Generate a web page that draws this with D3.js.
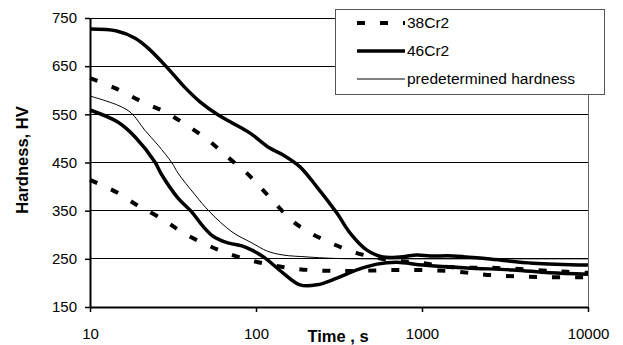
<!DOCTYPE html>
<html>
<head>
<meta charset="utf-8">
<script src="https://cdn.jsdelivr.net/npm/d3@7/dist/d3.min.js"></script>
<style>
  body { margin: 0; background: #fff; }
  svg text { font-family: "Liberation Sans", Arial, sans-serif; fill: #000; }
</style>
</head>
<body>
<svg id="chart" width="623" height="345"></svg>
<script>
// values: [time s, hardness HV]
var cr38Upper = [[10,625],[14.5,603],[20.6,576],[28.3,555],[37.3,530],[51.3,497],[67.7,461],[88,428],[106,399],[130,366],[165,329],[212,304],[290,281],[405,262],[535,252],[736,245],[1013,241],[1480,233],[2820,231],[7470,223],[10000,221]];
var cr38Lower = [[10,414],[14.7,387],[18.7,364],[21.4,353],[28.3,329],[36.3,304],[50.6,279],[71.7,258],[103,243],[145,233],[205,227],[290,225],[405,225],[736,227],[1410,225],[2660,216],[5140,212],[10000,212]];
var cr46Upper = [[10,727],[14.5,723],[18.7,708],[22.3,688],[29,648],[37,607],[46,576],[59,549],[72,532],[92,511],[121,480],[145,466],[184,441],[233,399],[307,345],[368,304],[466,268],[582,254],[736,254],[933,258],[1120,256],[1540,256],[2470,250],[4670,241],[10000,237]];
var cr46Lower = [[10,559],[14.7,534],[18.7,503],[24.6,451],[27.1,424],[33.9,376],[41.1,347],[47.3,320],[55.1,297],[67.7,283],[82.2,277],[94.5,268],[113,252],[145,221],[184,196],[233,196],[307,210],[405,227],[535,239],[706,243],[1013,237],[1865,231],[3530,227],[5860,221],[10000,218]];
var predetermined = [[10,588],[14.7,569],[17.7,553],[21.4,517],[25.7,486],[31.2,449],[33.9,428],[42.9,383],[52.8,347],[71.7,306],[94.5,283],[117,266],[145,258],[203,254],[290,251],[466,250],[667,250],[10000,250]];

var xTicks = [10, 100, 1000, 10000];
var yTicks = [150, 250, 350, 450, 550, 650, 750];
var legendNames = ["38Cr2", "46Cr2", "predetermined hardness"];

var margin = {top: 18, left: 90, right: 35, bottom: 38};
var width = 623, height = 345;
var chartWidth = width - margin.left - margin.right;
var chartHeight = height - margin.top - margin.bottom;

var svg = d3.select('#chart');
var chartArea = svg.append('g')
    .attr('transform', `translate(${margin.left},${margin.top})`);

var xScale = d3.scaleLog()
    .domain([10, 10000])
    .range([0, chartWidth]);

var yScale = d3.scaleLinear()
    .domain([150, 750])
    .range([chartHeight, 0]);

// gridlines
chartArea.append('g')
    .selectAll('line')
    .data(yTicks.slice(1))
    .enter().append('line')
    .attr('x1', 0).attr('x2', chartWidth)
    .attr('y1', d => yScale(d)).attr('y2', d => yScale(d))
    .attr('stroke', '#000')
    .attr('stroke-width', 1)
    .attr('shape-rendering', 'crispEdges');

// right border of plot area
chartArea.append('line')
    .attr('x1', chartWidth).attr('x2', chartWidth)
    .attr('y1', 0).attr('y2', chartHeight)
    .attr('stroke', '#666')
    .attr('shape-rendering', 'crispEdges');

var line = d3.line()
    .x(d => xScale(d[0]))
    .y(d => yScale(d[1]))
    .curve(d3.curveCatmullRom.alpha(0.5));

var series = [
    {data: predetermined, width: 1, dash: null},
    {data: cr38Lower, width: 4, dash: '8,15'},
    {data: cr38Upper, width: 4, dash: '8,15'},
    {data: cr46Lower, width: 3.5, dash: null},
    {data: cr46Upper, width: 3.5, dash: null}
];

chartArea.append('g')
    .selectAll('path')
    .data(series)
    .enter().append('path')
    .attr('fill', 'none')
    .attr('stroke', '#000')
    .attr('stroke-width', d => d.width)
    .attr('stroke-dasharray', d => d.dash)
    .attr('d', d => line(d.data));

// y axis
var yAxis = chartArea.append('g')
    .call(d3.axisLeft(yScale).tickValues(yTicks).tickSize(5).tickSizeOuter(0).tickPadding(8));
// x axis
var xAxis = chartArea.append('g')
    .attr('transform', `translate(0,${chartHeight})`)
    .call(d3.axisBottom(xScale).tickValues(xTicks).tickFormat(d3.format('d')).tickSize(5).tickSizeOuter(0).tickPadding(16));

[yAxis, xAxis].forEach(function (ax) {
    ax.select('.domain').attr('stroke-width', 2);
    ax.selectAll('.tick line').attr('stroke-width', 1.5);
    ax.selectAll('text').attr('font-size', 15).attr('font-family', '"Liberation Sans", Arial, sans-serif');
});

// axis labels
svg.append('text')
    .attr('x', 338).attr('y', 342)
    .attr('text-anchor', 'middle')
    .attr('font-size', 16.5)
    .attr('font-weight', 'bold')
    .text('Time , s');
svg.append('text')
    .attr('transform', 'translate(28,160) rotate(-90)')
    .attr('text-anchor', 'middle')
    .attr('font-size', 16.5)
    .attr('font-weight', 'bold')
    .text('Hardness, HV');

// legend
var legend = svg.append('g').attr('transform', 'translate(335,9)');
legend.append('rect')
    .attr('width', 269).attr('height', 85)
    .attr('fill', '#fff')
    .attr('stroke', '#555')
    .attr('shape-rendering', 'crispEdges');

var legendStyles = [series[2], series[4], series[0]];
var items = legend.selectAll('g.item')
    .data(legendNames)
    .enter().append('g')
    .attr('class', 'item')
    .attr('transform', (d, i) => `translate(22,${14 + i * 28})`);
items.append('line')
    .attr('x1', 0).attr('x2', 48)
    .attr('stroke', '#000')
    .attr('stroke-width', (d, i) => legendStyles[i].width)
    .attr('stroke-dasharray', (d, i) => legendStyles[i].dash);
items.append('text')
    .attr('x', 50).attr('dy', '0.35em')
    .attr('font-size', 15.5)
    .text(d => d);
</script>
</body>
</html>
